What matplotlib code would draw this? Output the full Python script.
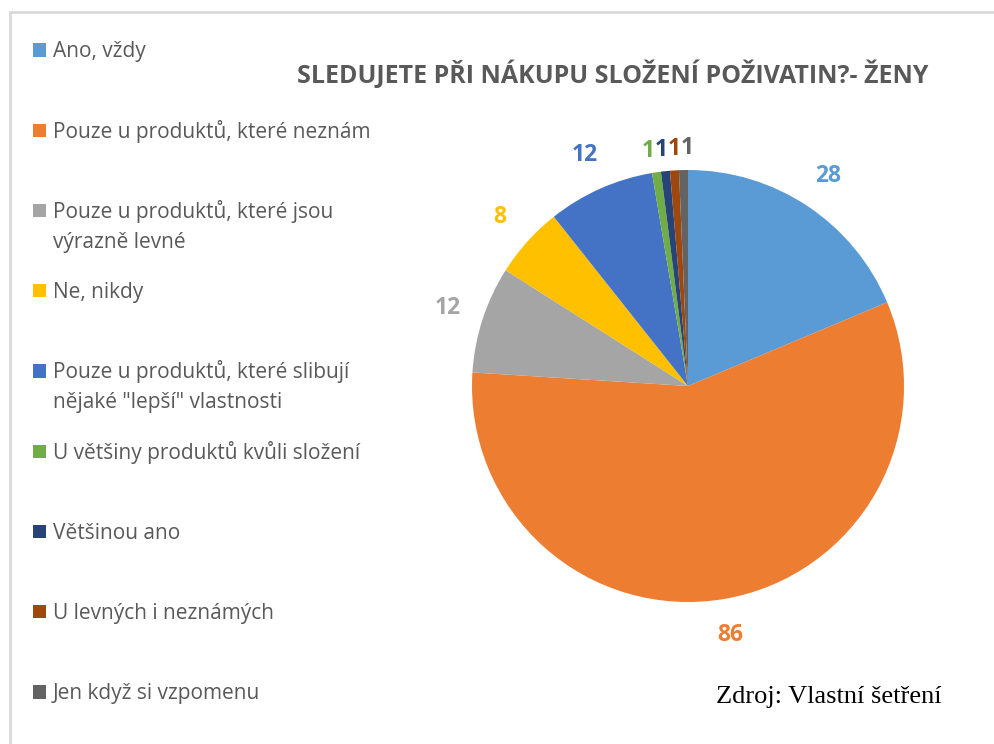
import numpy as np
import matplotlib.pyplot as plt
from matplotlib.patches import Rectangle

# data
kategorie = ['Ano, vždy',
             'Pouze u produktů, které neznám',
             'Pouze u produktů, které jsou\nvýrazně levné',
             'Ne, nikdy',
             'Pouze u produktů, které slibují\nnějaké "lepší" vlastnosti',
             'U většiny produktů kvůli složení',
             'Většinou ano',
             'U levných i neznámých',
             'Jen když si vzpomenu']
hodnoty = [28, 86, 12, 8, 12, 1, 1, 1, 1]
barvy = ['#5B9BD5', '#ED7D31', '#A5A5A5', '#FFC000', '#4472C4',
         '#70AD47', '#264478', '#9E480E', '#636363']

W, H = 994, 744
fig = plt.figure(figsize=(W / 100, H / 100), dpi=100)

# border of the chart area
fig.add_artist(Rectangle((10 / W, -0.1), 1.2, 1 - 12 / H + 0.1, transform=fig.transFigure,
                         fill=False, edgecolor='#D9D9D9', lw=2))

# pie: centre (688, 386), radius 216 px
cx, cy, r = 688, 386, 216
ax = fig.add_axes([(cx - r) / W, (H - cy - r) / H, 2 * r / W, 2 * r / H])
wedges, _ = ax.pie(hodnoty, colors=barvy, startangle=90, counterclock=False,
                   wedgeprops=dict(linewidth=0))
ax.set_xlim(-1, 1)
ax.set_ylim(-1, 1)
ax.set_aspect('equal')
ax.axis('off')

# data labels outside the slices
for w, v, c in zip(wedges, hodnoty, barvy):
    ang = np.deg2rad((w.theta1 + w.theta2) / 2)
    d = 1.17 if v > 1 else 1.10
    x, y = d * np.cos(ang), d * np.sin(ang)
    if v == 1:
        x = x * 1.3 + 0.025
    ax.text(x, y, str(v), color=c, fontsize=16.5, fontweight='bold',
            ha='center', va='center', family='Open Sans')

fig.text(613 / W, 1 - 75 / H, 'SLEDUJETE PŘI NÁKUPU SLOŽENÍ POŽIVATIN?- ŽENY',
         ha='center', va='center', fontsize=18, fontweight='bold',
         color='#595959', family='Open Sans')

# legend on the left
for i, (lab, c) in enumerate(zip(kategorie, barvy)):
    yc = 50 + 80.25 * i
    fig.add_artist(Rectangle((33 / W, 1 - (yc + 6.7) / H), 13.4 / W, 13.4 / H,
                             transform=fig.transFigure, facecolor=c, edgecolor='none'))
    for k, radek in enumerate(lab.split('\n')):
        fig.text(53 / W, 1 - (yc + 7.3 + 30 * k) / H, radek, ha='left', va='baseline',
                 fontsize=15, color='#595959', family='Open Sans')

fig.text(829 / W, 1 - 697 / H, 'Zdroj: Vlastní šetření', ha='center', va='center',
         fontsize=19, family='Liberation Serif', color='black')

fig.savefig('out.png', dpi=100)
